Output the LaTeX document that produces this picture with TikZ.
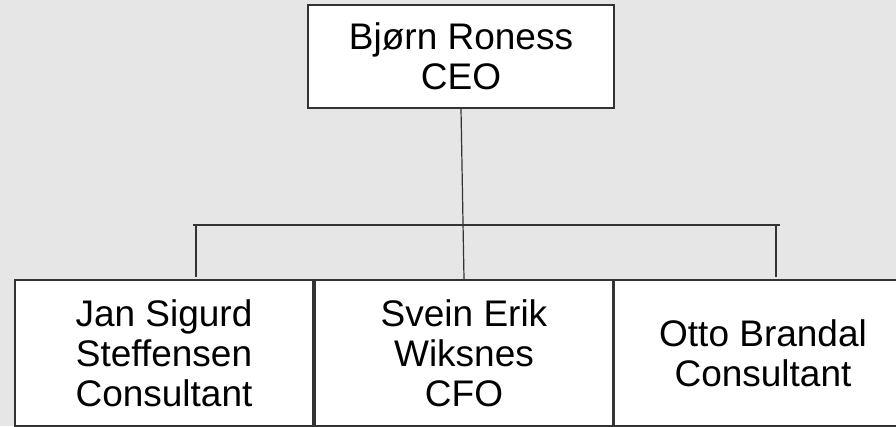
\documentclass[tikz,border=0pt]{standalone}
\usepackage{fontspec}
\setmainfont{Liberation Sans}
\definecolor{bg}{HTML}{E6E6E6}
\definecolor{ln}{HTML}{333333}
\begin{document}
\begin{tikzpicture}[x=1pt,y=-1pt,
  person/.style={draw=ln, line width=1.3pt, fill=white, inner sep=0pt,
    align=center, font=\fontsize{37}{40}\selectfont},
  conn/.style={draw=ln, line width=1.2pt}]
\fill[bg] (0,0) rectangle (896,426);
\useasboundingbox (0,0) rectangle (896,426);
\clip (0,0) rectangle (896,426);
\node[person, minimum width=306pt, minimum height=103pt] (ceo) at (461,56.5) {Bjørn Roness\\CEO};
\node[person, minimum width=298pt, minimum height=146pt] (jan) at (164,353) {Jan Sigurd\\Steffensen\\Consultant};
\node[person, minimum width=298pt, minimum height=146pt] (svein) at (464,353) {Svein Erik\\Wiksnes\\CFO};
\node[person, minimum width=298pt, minimum height=146pt] (otto) at (763,353) {Otto Brandal\\Consultant};
\coordinate (hl) at (193,225);
\coordinate (hr) at (780,225);
\coordinate (dl) at (196,225);
\coordinate (dle) at (196,277);
\coordinate (dr) at (776,225);
\coordinate (dre) at (776,277);
\draw[conn] (ceo.south) -- (svein.north);
\draw[conn] (hl) -- (hr);
\draw[conn] (dl) -- (dle);
\draw[conn] (dr) -- (dre);
\end{tikzpicture}
\end{document}
